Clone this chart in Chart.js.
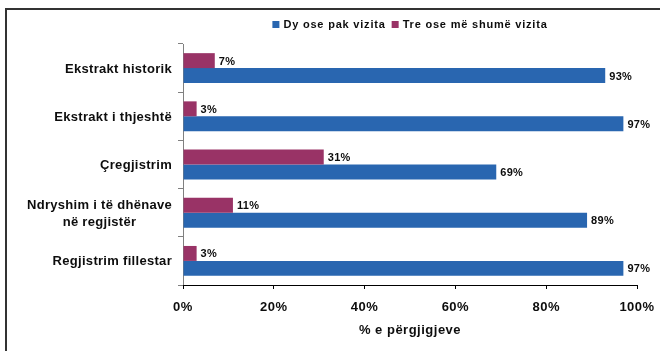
<!DOCTYPE html>
<html>
<head>
<meta charset="utf-8">
<script src="https://cdn.jsdelivr.net/npm/chart.js@4"></script>
<style>
  html, body { margin: 0; padding: 0; background: #fff; }
  #wrap { position: relative; width: 660px; height: 351px; overflow: hidden; }
  #frame { position: absolute; left: 5px; top: 8px; width: 700px; height: 400px; border: 2px solid #333; box-sizing: border-box; }
  canvas { position: absolute; left: 0; top: 0; }
</style>
</head>
<body>
<div id="wrap">
  <div id="frame"></div>
  <canvas id="chart" width="660" height="351"></canvas>
</div>
<script>
// data
var categories = [
  'Ekstrakt historik',
  'Ekstrakt i thjeshtë',
  'Çregjistrim',
  ['Ndryshim i të dhënave', 'në regjistër'],
  'Regjistrim fillestar'
];
var twoOrFewer = [93, 97, 69, 89, 97];   // Dy ose pak vizita
var threeOrMore = [7, 3, 31, 11, 3];     // Tre ose më shumë vizita
var seriesNames = ['Dy ose pak vizita', 'Tre ose më shumë vizita'];
var axisTitle = '% e përgjigjeve';

var TEXT = '#0d0d0d';
var FONT = '"Liberation Sans", Arial, sans-serif';
var BLUE = '#2966b0';
var PLUM = '#993366';

// wider letters like the original
var spacingPlugin = {
  id: 'spacing',
  beforeDraw: function (chart) {
    chart.ctx.letterSpacing = '0.5px';
  }
};

// category labels, value labels and legend
var labelsPlugin = {
  id: 'labels',
  afterDraw: function (chart) {
    var ctx = chart.ctx;
    var yScale = chart.scales.y;
    ctx.save();
    ctx.fillStyle = TEXT;

    // category labels: right aligned, lines centred on each other
    ctx.letterSpacing = '0.3px';
    ctx.font = 'bold 13px ' + FONT;
    ctx.textBaseline = 'middle';
    ctx.textAlign = 'center';
    categories.forEach(function (cat, i) {
      var lines = Array.isArray(cat) ? cat : [cat];
      var w = Math.max.apply(null, lines.map(function (l) { return ctx.measureText(l).width; }));
      var cx = yScale.right - 11 - w / 2;
      var cy = yScale.getPixelForValue(i) + 1;
      lines.forEach(function (l, k) {
        ctx.fillText(l, cx, cy + (k - (lines.length - 1) / 2) * 17);
      });
    });

    // value labels
    ctx.letterSpacing = '0.3px';
    ctx.font = 'bold 11px ' + FONT;
    ctx.textAlign = 'left';
    chart.data.datasets.forEach(function (ds, d) {
      chart.getDatasetMeta(d).data.forEach(function (bar, i) {
        ctx.fillText(ds.data[i] + '%', bar.x + 4, bar.y + 1);
      });
    });

    // legend (blue first, like the original)
    ctx.letterSpacing = '0.8px';
    var items = chart.data.datasets.slice().reverse();
    var box = 7, gap = 4, itemGap = 6;
    var widths = items.map(function (ds) { return ctx.measureText(ds.label).width; });
    var total = 0;
    widths.forEach(function (w, i) { total += box + gap + w + (i ? itemGap : 0); });
    var area = chart.chartArea;
    var x = (area.left + area.right) / 2 - total / 2;
    var y = 24.5;
    items.forEach(function (ds, i) {
      ctx.fillStyle = ds.backgroundColor;
      ctx.fillRect(x, y - 3.5, box, box);
      ctx.fillStyle = TEXT;
      ctx.fillText(ds.label, x + box + gap, y);
      x += box + gap + widths[i] + itemGap;
    });
    ctx.restore();
  }
};

var ctx = document.getElementById('chart').getContext('2d');
new Chart(ctx, {
  type: 'bar',
  data: {
    labels: categories,
    datasets: [
      { label: seriesNames[1], data: threeOrMore, backgroundColor: PLUM },
      { label: seriesNames[0], data: twoOrFewer, backgroundColor: BLUE }
    ]
  },
  options: {
    indexAxis: 'y',
    responsive: false,
    animation: false,
    layout: { padding: { top: 44, right: 23, left: 0, bottom: 0 } },
    datasets: {
      bar: { barPercentage: 1, categoryPercentage: 0.62, borderWidth: 0 }
    },
    scales: {
      y: {
        ticks: { display: false },
        grid: { drawOnChartArea: false, tickLength: 5, color: '#808080', offset: true },
        border: { color: '#808080', width: 1 },
        afterFit: function (scale) { scale.width = 183; }
      },
      x: {
        min: 0,
        max: 100,
        ticks: {
          stepSize: 20,
          color: TEXT,
          padding: 4,
          font: { family: FONT, size: 13, weight: 'bold', lineHeight: 2.25 },
          callback: function (v) { return v + '%'; }
        },
        grid: { drawOnChartArea: false, tickLength: 4, color: '#000' },
        border: { color: '#000', width: 1 },
        title: {
          display: true,
          text: axisTitle,
          color: TEXT,
          font: { family: FONT, size: 13, weight: 'bold' },
          padding: { top: 0, bottom: 13 }
        },
        afterFit: function (scale) { scale.height = 66; }
      }
    },
    plugins: {
      legend: { display: false },
      tooltip: { enabled: false }
    }
  },
  plugins: [spacingPlugin, labelsPlugin]
});
</script>
</body>
</html>
